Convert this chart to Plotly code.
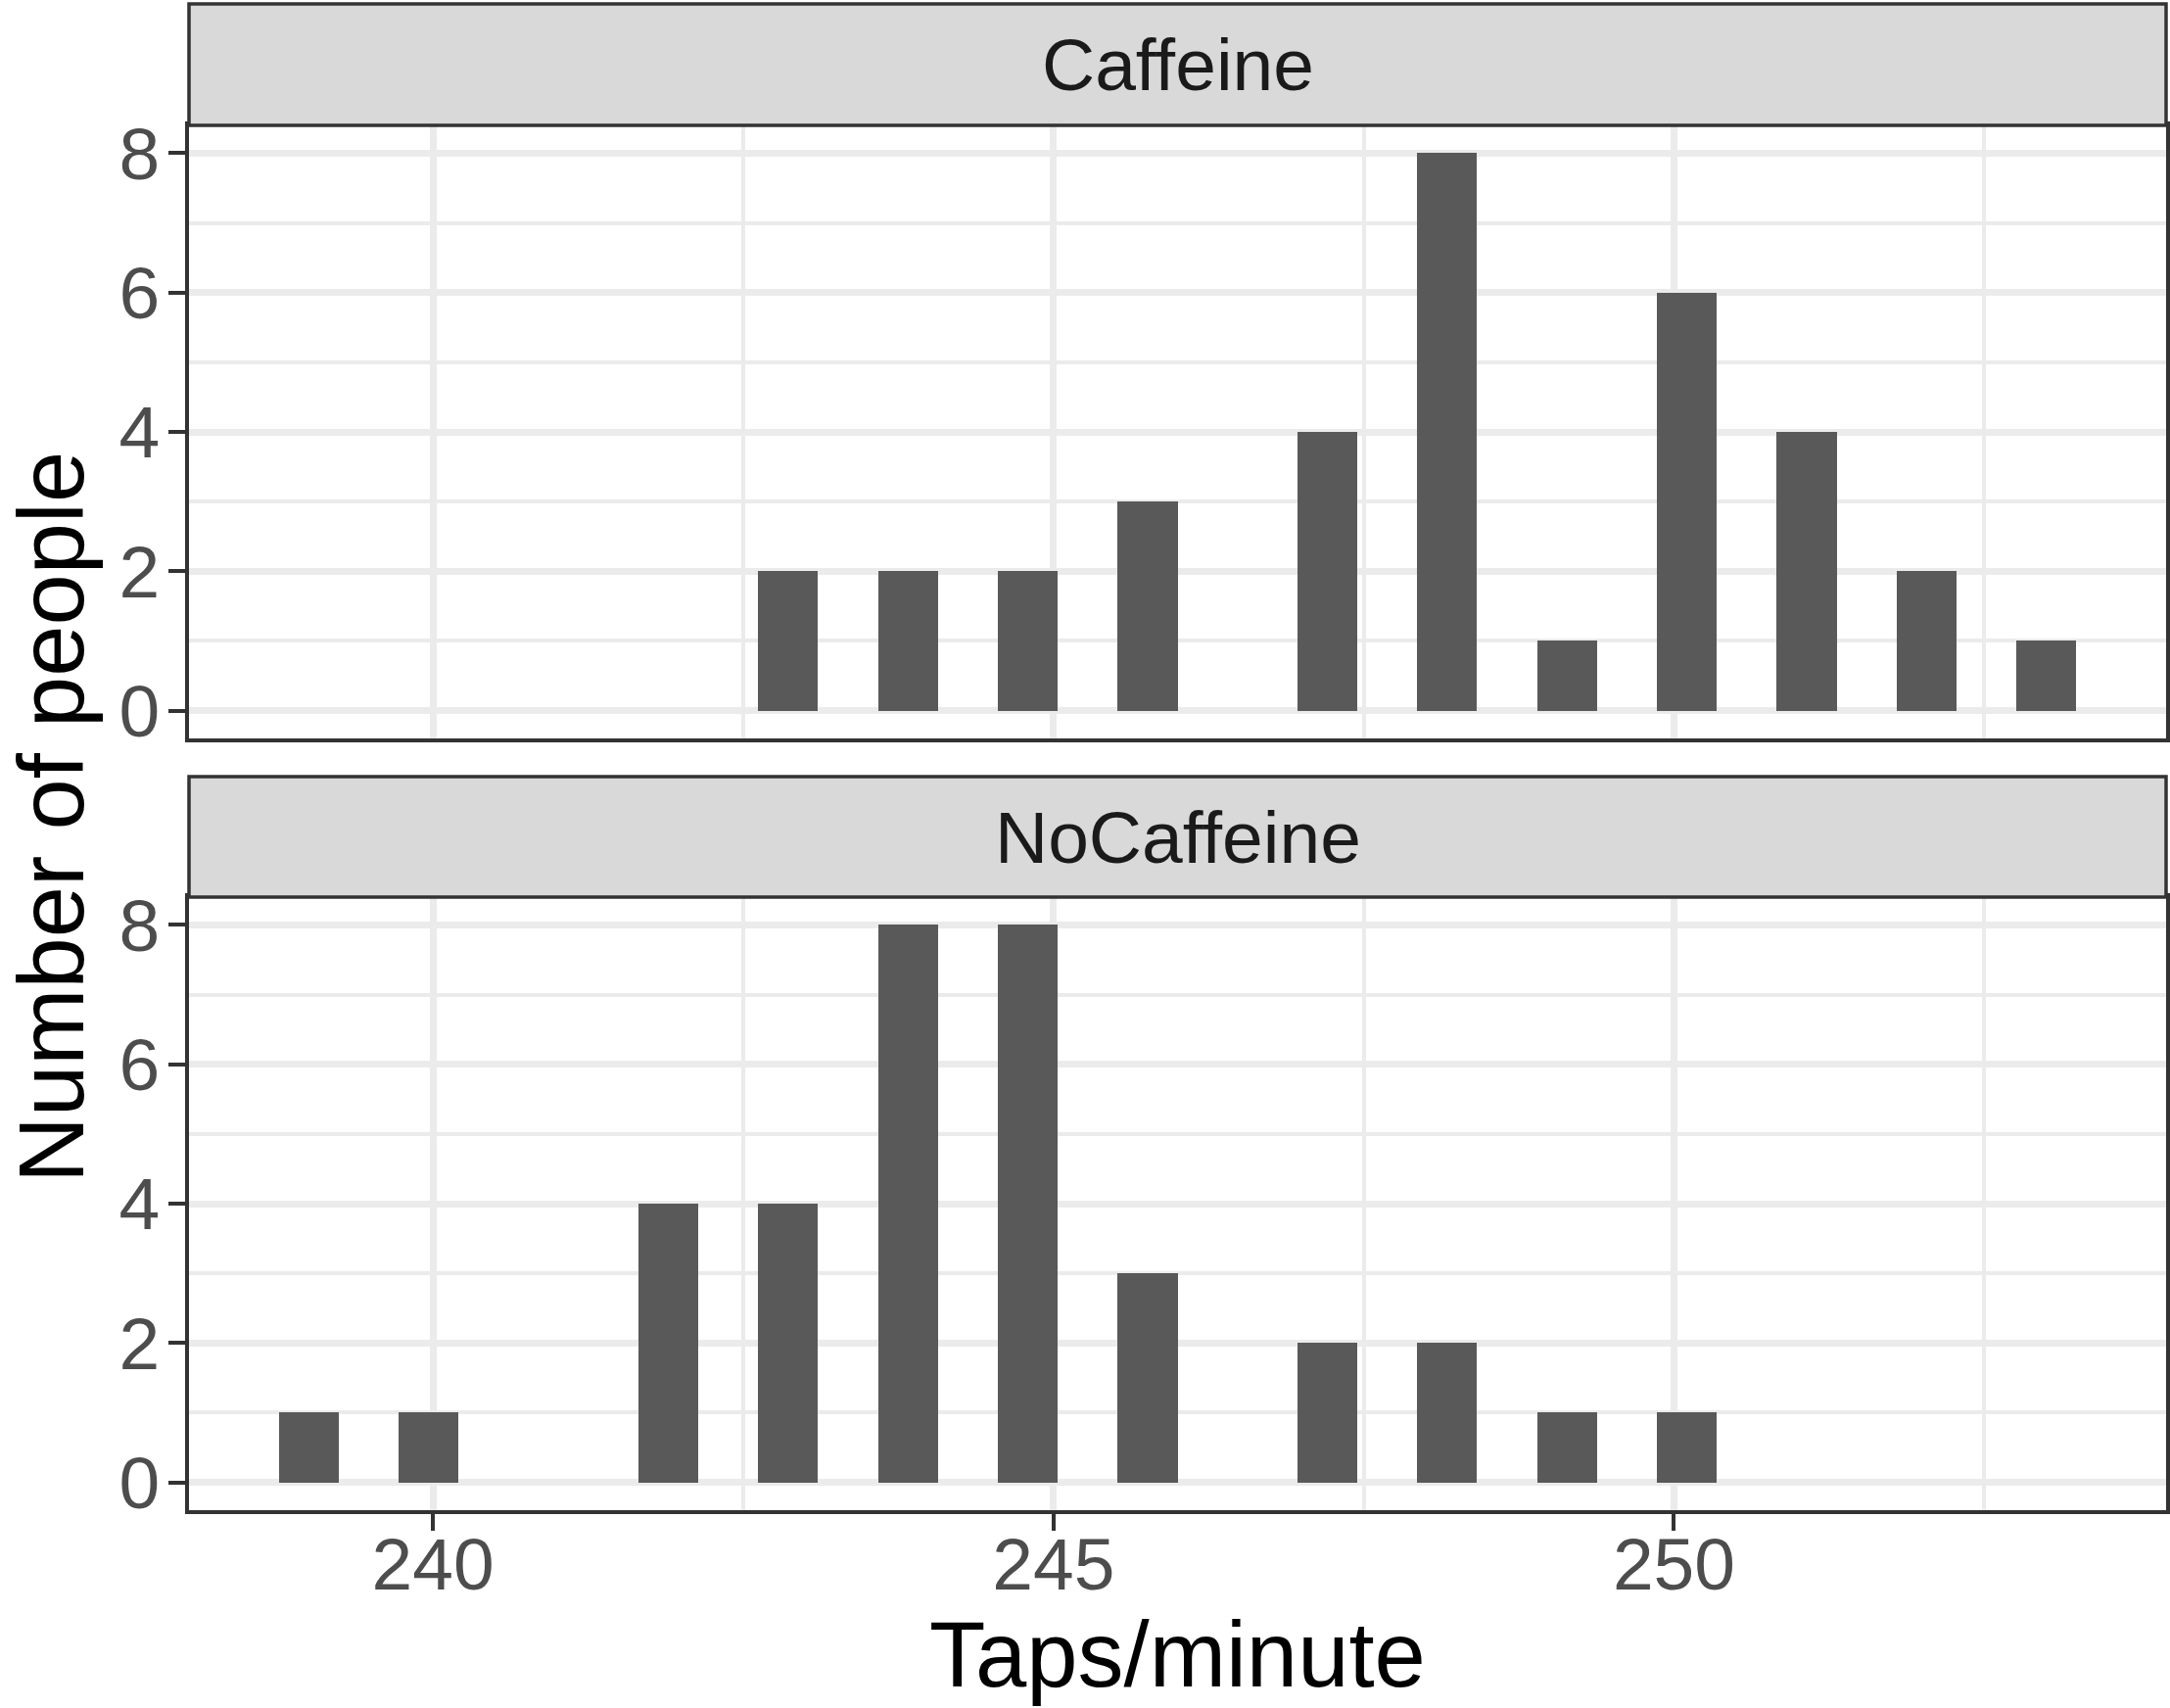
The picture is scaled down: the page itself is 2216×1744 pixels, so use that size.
import math
import plotly.graph_objects as go

# ---- data ----
taps_caffeine = [243, 244, 245, 246, 247, 248, 249, 250, 251, 252, 253]
count_caffeine = [2, 2, 2, 3, 4, 8, 1, 6, 4, 2, 1]
taps_nocaffeine = [239, 240, 242, 243, 244, 245, 246, 247, 248, 249, 250]
count_nocaffeine = [1, 1, 4, 4, 8, 8, 3, 2, 2, 1, 1]
panel_labels = ["Caffeine", "NoCaffeine"]
x_title = "Taps/minute"
y_title = "Number of people"
x_ticks = [240, 245, 250]
y_ticks = [0, 2, 4, 6, 8]

# ---- histogram binning like ggplot2 (bins = 30, right-closed) ----
BINS = 30
all_taps = taps_caffeine + taps_nocaffeine
lo, hi = min(all_taps), max(all_taps)
w = (hi - lo) / (BINS - 1)


def centers(vals):
    return [lo + math.ceil((v - lo) / w - 0.5 - 1e-9) * w for v in vals]


xmin = lo - w / 2
xmax = hi + w / 2
xpad = (xmax - xmin) * 0.05
x_range = [xmin - xpad, xmax + xpad]
ymax = max(count_caffeine + count_nocaffeine)
y_range = [-0.05 * ymax, ymax * 1.05]

# ---- layout geometry (pixels) ----
W, H = 2216, 1744
PL, PR = 193, 2212
top_strip = (4, 128)
top_panel = (128, 754)
bot_strip = (793, 916)
bot_panel = (916, 1542)


def px(x):
    return x / W


def py(y):
    return 1 - y / H


FONT = "Liberation Sans, Arial, Helvetica, sans-serif"
BAR = "#595959"
GRID = "#EBEBEB"
BORDER = "#333333"
STRIP = "#D9D9D9"
TICKTXT = "#4D4D4D"

fig = go.Figure()
fig.add_trace(go.Bar(x=centers(taps_caffeine), y=count_caffeine, width=w,
                     marker=dict(color=BAR, line=dict(width=0)),
                     xaxis="x", yaxis="y", showlegend=False))
fig.add_trace(go.Bar(x=centers(taps_nocaffeine), y=count_nocaffeine, width=w,
                     marker=dict(color=BAR, line=dict(width=0)),
                     xaxis="x2", yaxis="y2", showlegend=False))

common_x = dict(
    domain=[px(PL), px(PR)], range=x_range,
    tickmode="array", tickvals=x_ticks, ticktext=[str(t) for t in x_ticks],
    showgrid=True, gridcolor=GRID, gridwidth=7,
    minor=dict(tickmode="linear", tick0=240, dtick=2.5, showgrid=True,
               gridcolor=GRID, gridwidth=3.5, ticks=""),
    showline=True, mirror=True, linecolor=BORDER, linewidth=3.5,
    zeroline=False, fixedrange=True,
    tickfont=dict(family=FONT, size=75, color=TICKTXT),
    ticklen=17, tickwidth=4, tickcolor=BORDER,
)
common_y = dict(
    range=y_range, tickmode="array", tickvals=y_ticks,
    ticktext=[str(t) for t in y_ticks],
    showgrid=True, gridcolor=GRID, gridwidth=7,
    minor=dict(tickmode="linear", tick0=0, dtick=1, showgrid=True,
               gridcolor=GRID, gridwidth=3.5, ticks=""),
    showline=True, mirror=True, linecolor=BORDER, linewidth=3.5,
    zeroline=False, fixedrange=True, ticks="outside",
    tickfont=dict(family=FONT, size=75, color=TICKTXT),
    ticklen=17, tickwidth=4, tickcolor=BORDER, ticklabelstandoff=-6,
)

fig.update_layout(
    width=W, height=H,
    margin=dict(l=0, r=0, t=0, b=0, autoexpand=False),
    paper_bgcolor="white", plot_bgcolor="white",
    bargap=0, barmode="overlay",
    xaxis=dict(common_x, anchor="y", showticklabels=False, ticks=""),
    yaxis=dict(common_y, anchor="x",
               domain=[py(top_panel[1]), py(top_panel[0])]),
    xaxis2=dict(common_x, anchor="y2", matches="x", ticks="outside",
                showticklabels=True, ticklabelstandoff=-30),
    yaxis2=dict(common_y, anchor="x2",
                domain=[py(bot_panel[1]), py(bot_panel[0])]),
)

shapes = []
annotations = []
for label, (s0, s1) in zip(panel_labels, [top_strip, bot_strip]):
    shapes.append(dict(type="rect", xref="paper", yref="paper",
                       x0=px(PL), x1=px(PR), y0=py(s1), y1=py(s0),
                       fillcolor=STRIP, line=dict(color=BORDER, width=3.5),
                       layer="above"))
    annotations.append(dict(text=label, xref="paper", yref="paper",
                            x=px((PL + PR) / 2), y=py((s0 + s1) / 2),
                            xanchor="center", yanchor="middle",
                            showarrow=False,
                            font=dict(family=FONT, size=75, color="#1A1A1A")))

annotations.append(dict(text=x_title, xref="paper", yref="paper",
                        x=px((PL + PR) / 2), y=0,
                        xanchor="center", yanchor="bottom", showarrow=False,
                        font=dict(family=FONT, size=94, color="black")))
annotations.append(dict(text=y_title, xref="paper", yref="paper",
                        x=px(52), y=py((top_panel[0] + bot_panel[1]) / 2),
                        xanchor="center", yanchor="middle", showarrow=False,
                        textangle=-90,
                        font=dict(family=FONT, size=94, color="black")))

fig.update_layout(shapes=shapes, annotations=annotations)
fig.write_html("out.html")
